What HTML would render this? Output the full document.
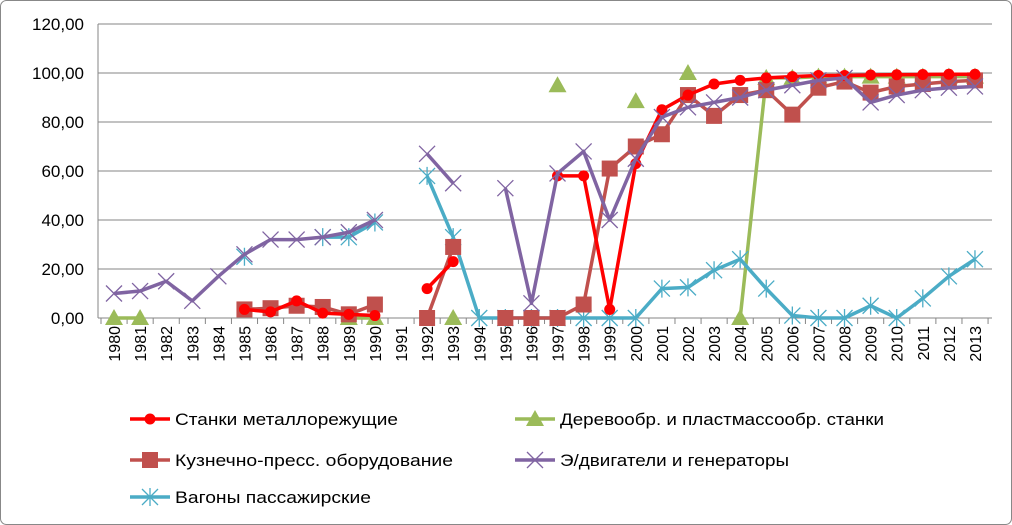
<!DOCTYPE html>
<html><head><meta charset="utf-8"><style>
body{margin:0;background:#fff}
svg{display:block;font-family:"Liberation Sans",sans-serif}
</style></head><body>
<svg id="c" width="1012" height="525" xmlns="http://www.w3.org/2000/svg">
<rect x="0.5" y="0.5" width="1011" height="524" rx="6" fill="#fff" stroke="#888"/>
<g id="g"></g>
</svg>
<script>
const g=document.getElementById('g');let s='';
const X=i=>114+i*26.09, Y=v=>318-v*2.45;
for(let k=0;k<=6;k++){const y=Y(k*20);s+=`<line x1="98" y1="${y}" x2="992" y2="${y}" stroke="#868686" stroke-width="1"/>`;
s+=`<text x="84" y="${y+6}" font-size="17" text-anchor="end" fill="#000">${(k*20).toFixed(2).replace('.',',')}</text>`;}
s+=`<line x1="98" y1="24" x2="98" y2="318" stroke="#868686"/>`;
for(let i=0;i<=34;i++){const x=101+i*26.09;s+=`<line x1="${x}" y1="318" x2="${x}" y2="324" stroke="#868686"/>`;}
for(let i=0;i<34;i++){const x=X(i)+6;s+=`<text transform="translate(${x},326) rotate(-90)" font-size="16" text-anchor="end">${1980+i}</text>`;}
function ser(d,col,mk){let segs=[],cur=[];for(let i=0;i<34;i++){const v=d[1980+i];if(v===undefined){if(cur.length)segs.push(cur);cur=[];}else cur.push([X(i),Y(v)]);}if(cur.length)segs.push(cur);
for(const sg of segs)if(sg.length>1)s+=`<polyline points="${sg.map(p=>p.join(',')).join(' ')}" fill="none" stroke="${col}" stroke-width="3.5" stroke-linejoin="round"/>`;
for(const sg of segs)for(const p of sg)s+=mk(p[0],p[1]);}
const circ=c=>(x,y)=>`<circle cx="${x}" cy="${y}" r="5.5" fill="${c}"/>`;
const sq=c=>(x,y)=>`<rect x="${x-8}" y="${y-8}" width="16" height="16" fill="${c}"/>`;
const tri=c=>(x,y)=>`<polygon points="${x},${y-9} ${x+9},${y+7} ${x-9},${y+7}" fill="${c}"/>`;
const xx=c=>(x,y)=>`<path d="M${x-8} ${y-8}L${x+8} ${y+8}M${x-8} ${y+8}L${x+8} ${y-8}" stroke="${c}" stroke-width="1.3"/>`;
const ast=c=>(x,y)=>`<path d="M${x-8} ${y-8}L${x+8} ${y+8}M${x-8} ${y+8}L${x+8} ${y-8}M${x} ${y-9}V${y+9}" stroke="${c}" stroke-width="1.3"/>`;
const red={1985:3.5,1986:2.5,1987:7,1988:2,1989:1.5,1990:1,1992:12,1993:23,1997:58,1998:58,1999:3.5,2000:63,2001:85,2002:91,2003:95.5,2004:97,2005:98,2006:98.5,2007:99,2008:99,2009:99.2,2010:99.3,2011:99.4,2012:99.5,2013:99.5};
const grn={1980:0,1981:0,1989:0,1990:0,1993:0,1997:95,2000:88.5,2002:100,2004:0,2005:98,2006:98,2007:98.5,2008:98.5,2009:98.5,2010:98.5,2011:98.5,2012:98.5,2013:98.5};
const brn={1985:3.5,1986:4,1987:5,1988:4.5,1989:1.5,1990:5.5,1992:0,1993:29,1995:0,1996:0,1997:0,1998:5.5,1999:61,2000:70,2001:75,2002:91,2003:82.5,2004:91,2005:93,2006:83,2007:94,2008:96.5,2009:92,2010:94.5,2011:95.5,2012:96.5,2013:97};
const pur={1980:10,1981:11,1982:15,1983:7,1984:17,1985:26,1986:32,1987:32,1988:33,1989:35,1990:40,1992:67,1993:55,1995:53,1996:6,1997:59,1998:68,1999:40,2000:65,2001:82,2002:86,2003:88,2004:90,2005:93,2006:95,2007:97,2008:98,2009:88,2010:91,2011:93,2012:94,2013:94.5};
const cyn={1985:25,1988:33,1989:33,1990:39,1992:58,1993:33,1994:0,1995:0,1996:0,1997:0,1998:0,1999:0,2000:0,2001:12,2002:12.5,2003:19.5,2004:24,2005:12,2006:1,2007:0,2008:0,2009:5,2010:0,2011:8,2012:17,2013:24};
ser(grn,'#9BBB59',tri('#9BBB59'));
ser(cyn,'#4BACC6',ast('#4BACC6'));
ser(brn,'#C0504D',sq('#C0504D'));
ser(red,'#FF0000',circ('#FF0000'));
ser(pur,'#8064A2',xx('#8064A2'));
function leg(x,y,col,mk,t,w){s+=`<line x1="${x}" y1="${y}" x2="${x+40}" y2="${y}" stroke="${col}" stroke-width="3.5"/>`+mk(x+20,y)+`<text x="${x+45}" y="${y+6}" font-size="17" textLength="${w}" lengthAdjust="spacingAndGlyphs">${t}</text>`;}
leg(130,419,'#FF0000',circ('#FF0000'),'Станки металлорежущие',223);
leg(515,419,'#9BBB59',tri('#9BBB59'),'Деревообр. и пластмассообр. станки',324);
leg(130,460,'#C0504D',sq('#C0504D'),'Кузнечно-пресс. оборудование',278);
leg(515,460,'#8064A2',xx('#8064A2'),'Э/двигатели и генераторы',229);
leg(130,497,'#4BACC6',ast('#4BACC6'),'Вагоны пассажирские',196);
g.innerHTML=s;
</script>
</body></html>
